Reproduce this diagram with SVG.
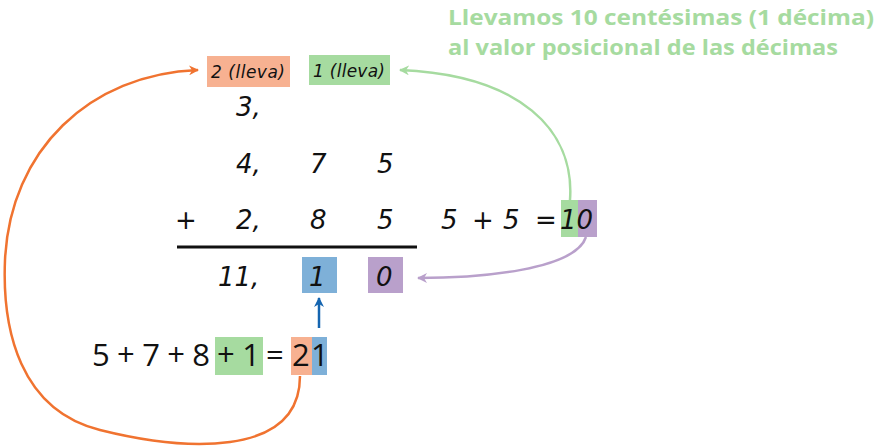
<svg xmlns="http://www.w3.org/2000/svg" width="876" height="447" viewBox="0 0 876 447">
<style>
.hw{font-family:"DejaVu Sans","Liberation Sans",sans-serif;font-style:italic;fill:#111}
.n{font-size:26px}
.s{font-size:17px}
.eq{font-family:"Open Sans","Liberation Sans",sans-serif;font-size:31px;fill:#111}
.title{font-family:"Open Sans","Liberation Sans",sans-serif;font-weight:bold;font-size:22px;fill:#a6dba0}
</style>
<defs>
<marker id="ao" markerWidth="10" markerHeight="10" refX="9" refY="5" orient="auto" markerUnits="userSpaceOnUse"><path d="M0,0 L10,5 L0,10 L3,5 Z" fill="#f07330"/></marker>
<marker id="ag" markerWidth="10" markerHeight="10" refX="9" refY="5" orient="auto" markerUnits="userSpaceOnUse"><path d="M0,0 L10,5 L0,10 L3,5 Z" fill="#a6dba0"/></marker>
<marker id="ap" markerWidth="10" markerHeight="10" refX="9" refY="5" orient="auto" markerUnits="userSpaceOnUse"><path d="M0,0 L10,5 L0,10 L3,5 Z" fill="#b9a0cb"/></marker>
<marker id="ab" markerWidth="10" markerHeight="10" refX="9" refY="5" orient="auto" markerUnits="userSpaceOnUse"><path d="M0,0 L10,5 L0,10 L3,5 Z" fill="#1565b0"/></marker>
</defs>

<g id="title">
<text class="title" x="448" y="25" textLength="426" lengthAdjust="spacingAndGlyphs">Llevamos 10 centésimas (1 décima)</text>
<text class="title" x="448" y="55" textLength="390" lengthAdjust="spacingAndGlyphs">al valor posicional de las décimas</text>
</g>

<g id="carry2">
<rect x="207" y="56" width="83" height="31" fill="#f7b191"/>
<text class="hw s" x="211" y="78" textLength="74">2 (lleva)</text>
</g>
<g id="carry1">
<rect x="309" y="55" width="81" height="30" fill="#a6dba0"/>
<text class="hw s" x="313" y="77" textLength="72">1 (lleva)</text>
</g>

<g id="row1"><text class="hw n" x="236" y="116">3,</text></g>
<g id="row2">
<text class="hw n" x="236" y="173">4,</text>
<text class="hw n" x="310" y="173">7</text>
<text class="hw n" x="377" y="173">5</text>
</g>
<g id="row3">
<text class="hw n" x="175" y="229" font-style="normal">+</text>
<text class="hw n" x="236" y="229">2,</text>
<text class="hw n" x="310" y="229">8</text>
<text class="hw n" x="377" y="229">5</text>
</g>
<line x1="177" y1="247" x2="417" y2="247" stroke="#111" stroke-width="3"/>

<g id="sum55">
<rect x="561" y="200" width="17" height="37" fill="#a6dba0"/>
<rect x="578" y="200" width="19" height="37" fill="#b9a0cb"/>
<text class="hw n" x="441" y="229">5</text>
<text class="hw n" x="472" y="229" font-style="normal">+</text>
<text class="hw n" x="503" y="229">5</text>
<text class="hw n" x="535" y="229" font-style="normal">=</text>
<text class="hw n" x="560" y="229">10</text>
</g>

<g id="result">
<text class="hw n" x="218" y="286">11,</text>
<rect x="302" y="257" width="35" height="36" fill="#7eb0d8"/>
<text class="hw n" x="309" y="286">1</text>
<rect x="368" y="257" width="35" height="36" fill="#b9a0cb"/>
<text class="hw n" x="376" y="286">0</text>
</g>

<g id="sum_tenths">
<rect x="215" y="337" width="48" height="38" fill="#a6dba0"/>
<rect x="291" y="337" width="21" height="38" fill="#f7b191"/>
<rect x="312" y="337" width="15" height="38" fill="#7eb0d8"/>
<text class="eq" x="92" y="366" textLength="118" lengthAdjust="spacing">5 + 7 + 8</text>
<text class="eq" x="217" y="366" textLength="43" lengthAdjust="spacing">+ 1</text>
<text class="eq" x="266" y="366">=</text>
<text class="eq" x="292" y="366">2</text>
<text class="eq" x="311" y="366">1</text>
</g>

<g id="connectors" fill="none" stroke-width="2.5">
<path d="M300,376 C300,460 180,450 100,430 C20,410 2,330 5,260 C10,150 90,74 198,70" stroke="#f07330" marker-end="url(#ao)"/>
<path d="M570,200 C575,130 520,75 400,70" stroke="#a6dba0" marker-end="url(#ag)"/>
<path d="M586,237 C575,270 480,278 418,278" stroke="#b9a0cb" marker-end="url(#ap)"/>
<path d="M319,328 L319,298" stroke="#1565b0" marker-end="url(#ab)"/>
</g>
</svg>
